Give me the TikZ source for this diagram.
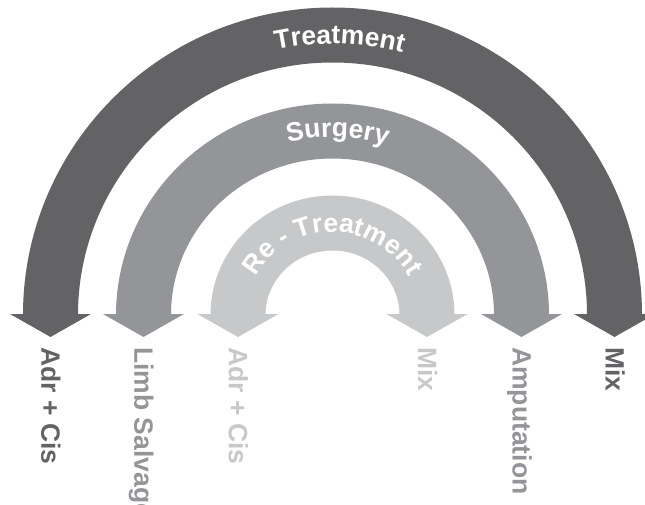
\documentclass[tikz,border=0pt]{standalone}
\usepackage{fontspec}
\setmainfont{Liberation Sans}
\usepackage{tikz}
\usetikzlibrary{arrows.meta,decorations.text}
\definecolor{treatgray}{HTML}{636365}
\definecolor{surggray}{HTML}{939598}
\definecolor{retreatgray}{HTML}{C7C8CA}
\newcommand{\bandfont}{\bfseries\fontsize{26.5pt}{31pt}\selectfont}
\tikzset{
  band/.style={line width=55pt, {Triangle[width=80pt,length=23pt]}-{Triangle[width=80pt,length=23pt]}},
  endlabel/.style={font=\bandfont, anchor=base west, rotate=-90, inner sep=0pt},
  arclabel/.style 2 args={decorate, decoration={text along path,
      text align={center, left indent=#2},
      text={|\bandfont\color{white}|#1}}}
}
\begin{document}
\begin{tikzpicture}[x=1pt,y=1pt]
  \useasboundingbox (-332.5,-189) rectangle (312.5,315);

  \coordinate (trtL) at (-282,-22);
  \coordinate (trtR) at (282,-22);
  \coordinate (surL) at (-189,-22);
  \coordinate (surR) at (189,-22);
  \coordinate (retL) at (-94.5,-22);
  \coordinate (retR) at (94.5,-22);

  % the three bands
  \draw[band, treatgray] (trtL) -- ++(0,22) arc[start angle=180, end angle=0, x radius=282, y radius=280] -- (trtR);
  \draw[band, surggray] (surL) -- ++(0,22) arc[start angle=180, end angle=0, x radius=189, y radius=184] -- (surR);
  \draw[band, retreatgray] (retL) -- ++(0,22) arc[start angle=180, end angle=0, x radius=94.5, y radius=92] -- (retR);

  \path[arclabel={Treatment}{14pt}] (-273,0) arc[start angle=180, end angle=0, x radius=273, y radius=271];
  \path[arclabel={Surgery}{10pt}] (-181,0) arc[start angle=180, end angle=0, x radius=181, y radius=178];
  \path[arclabel={Re - Treatment}{0pt}] (-86,0) arc[start angle=180, end angle=0, x radius=86, y radius=83];

  % labels under the tips
  \node[endlabel, text=treatgray] (adrA) at ([shift={(-9,-10)}]trtL) {Adr + Cis};
  \node[endlabel, text=surggray] (limb) at ([shift={(-9,-10)}]surL) {Limb Salvage};
  \node[endlabel, text=retreatgray] (adrB) at ([shift={(-9,-10)}]retL) {Adr + Cis};
  \node[endlabel, text=retreatgray] (mixB) at ([shift={(-9,-10)}]retR) {Mix};
  \node[endlabel, text=surggray] (amp) at ([shift={(-9,-10)}]surR) {Amputation};
  \node[endlabel, text=treatgray] (mixA) at ([shift={(-9,-10)}]trtR) {Mix};
\end{tikzpicture}
\end{document}
